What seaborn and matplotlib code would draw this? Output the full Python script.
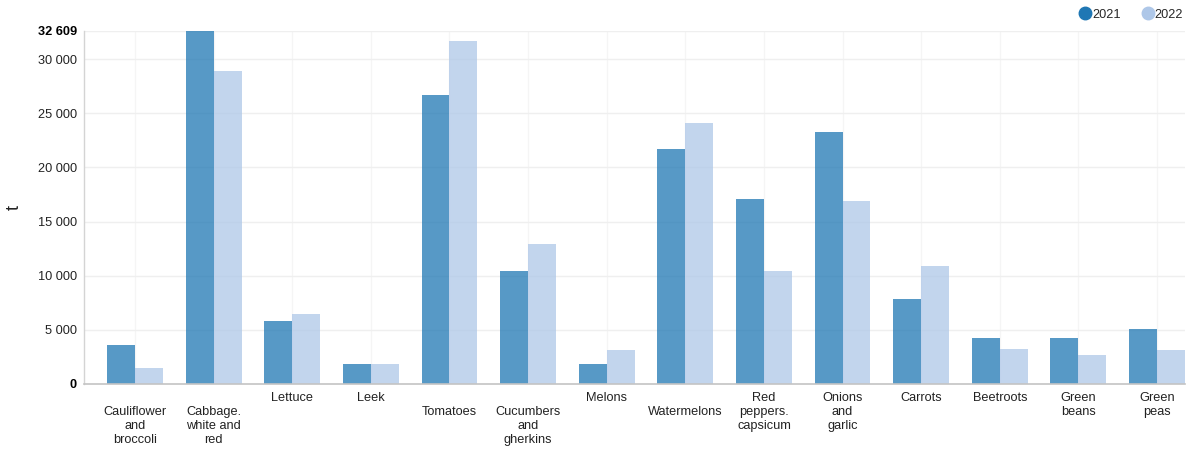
import matplotlib
matplotlib.use("Agg")
import matplotlib.pyplot as plt
from matplotlib.lines import Line2D
import seaborn as sns
import pandas as pd

categories = ["Cauliflower and broccoli", "Cabbage. white and red", "Lettuce", "Leek",
              "Tomatoes", "Cucumbers and gherkins", "Melons", "Watermelons",
              "Red peppers. capsicum", "Onions and garlic", "Carrots", "Beetroots",
              "Green beans", "Green peas"]
tick_labels = ["\nCauliflower\nand\nbroccoli", "\nCabbage.\nwhite and\nred", "Lettuce", "Leek",
               "\nTomatoes", "\nCucumbers\nand\ngherkins", "Melons", "\nWatermelons",
               "Red\npeppers.\ncapsicum", "Onions\nand\ngarlic", "Carrots", "Beetroots",
               "Green\nbeans", "Green\npeas"]
years = ["2021", "2022"]
values_2021 = [3610, 32609, 5830, 1850, 26670, 10460, 1850, 21670, 17130, 23240, 7870, 4260, 4260, 5090]
values_2022 = [1480, 28890, 6480, 1850, 31670, 12960, 3150, 24080, 10460, 16950, 10930, 3240, 2690, 3150]
y_ticks = [0, 5000, 10000, 15000, 20000, 25000, 30000, 32609]
colors = ["#1f77b4", "#aec7e8"]

df = pd.DataFrame({
    "cat": categories * 2,
    "year": [years[0]] * len(categories) + [years[1]] * len(categories),
    "value": values_2021 + values_2022,
})

sns.set_theme(style="white")
plt.rcParams["font.family"] = ["Liberation Sans", "DejaVu Sans"]

fig = plt.figure(figsize=(11.99, 4.51), dpi=100)
ax = fig.add_axes([84 / 1199, (451 - 384) / 451, (1185 - 84) / 1199, (384 - 31) / 451])

sns.barplot(data=df, x="cat", y="value", hue="year", palette=colors, alpha=0.75,
            saturation=1, width=0.71, legend=False, ax=ax, order=categories,
            hue_order=years, linewidth=0)

ax.set_xlim(-0.649, 13.356)
ax.set_ylim(0, 32609)
ax.set_yticks(y_ticks)
ax.set_yticklabels([f"{v:,}".replace(",", " ") for v in y_ticks], fontsize=9.2, color="#222222")
for lbl, v in zip(ax.get_yticklabels(), y_ticks):
    if v in (0, 32609):
        lbl.set_fontweight("bold")
        lbl.set_color("#000000")
ax.set_xticks(range(len(categories)))
ax.set_xticklabels(tick_labels, fontsize=9.2, color="#222222", linespacing=1.2)

ax.tick_params(axis="both", length=0)
ax.tick_params(axis="x", pad=6)
ax.tick_params(axis="y", pad=5)

ax.grid(True, axis="y", color="#efefef", linewidth=1)
ax.grid(True, axis="x", color="#f5f5f5", linewidth=1)
ax.set_axisbelow(True)

for s in ["top", "right"]:
    ax.spines[s].set_visible(False)
ax.spines["left"].set_color("#d4d4d4")
ax.spines["bottom"].set_color("#c4c4c4")
ax.spines["left"].set_linewidth(1)
ax.spines["bottom"].set_linewidth(1.2)

ax.set_xlabel("")
ax.set_ylabel("t", fontsize=13, color="#222222", labelpad=11)

handles = [Line2D([0], [0], marker="o", color="none", markerfacecolor=c, markeredgecolor=c,
                  markersize=9) for c in colors]
fig.legend(handles, years, loc="upper right", bbox_to_anchor=(1192 / 1199, 1.0), ncol=2,
           frameon=False, fontsize=9.2, handletextpad=0.05, columnspacing=1.6,
           handlelength=1.0, borderaxespad=0.3)

fig.savefig("out.png", dpi=100)
